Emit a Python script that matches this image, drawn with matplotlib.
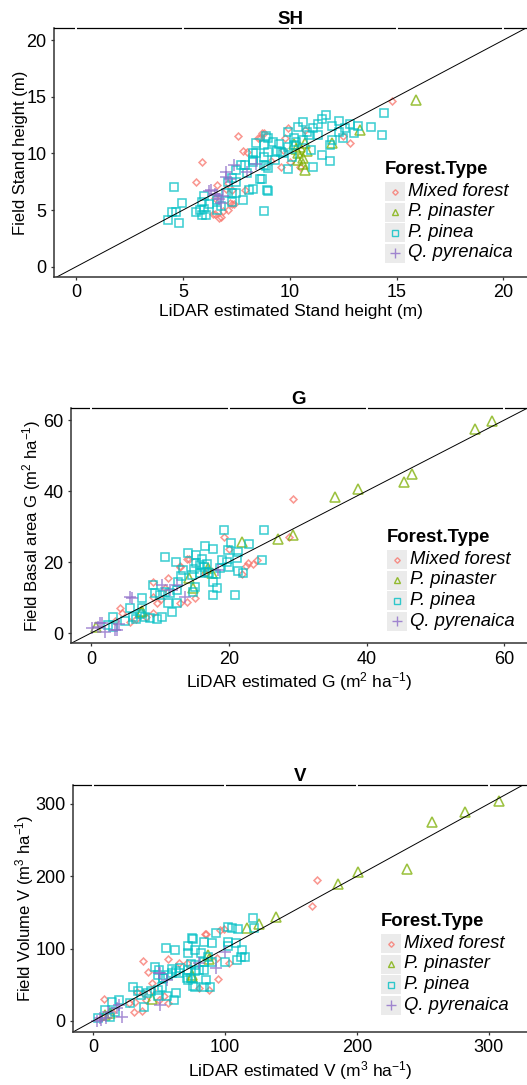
import numpy as np
import matplotlib
matplotlib.use("Agg")
import matplotlib.pyplot as plt
from matplotlib.patches import Rectangle
from matplotlib.lines import Line2D

plt.rcParams['font.family'] = ['Liberation Sans', 'DejaVu Sans']
plt.rcParams['mathtext.fontset'] = 'custom'
plt.rcParams['mathtext.rm'] = 'Liberation Sans'
plt.rcParams['mathtext.it'] = 'Liberation Sans:italic'

# forest types and their look (ggplot default hues)
groups = ['Mixed forest', 'P. pinaster', 'P. pinea', 'Q. pyrenaica']
colors = ['#F8766D', '#7CAE00', '#00BFC4', '#8E6CC8']
markers = ['D', '^', 's', '+']
msizes = [3.5, 7.0, 6.2, 8.5]
key_sizes = [2.8, 5.0, 4.2, 6.5]

# ---- SH : stand height (m), (LiDAR, field) ----
sh_mixed = [(14.8, 14.6), (7.6, 11.5), (8.5, 11.4), (8.7, 11.8), (9.9, 12.2), (7.8, 10.2),
            (8.0, 10.1), (5.9, 9.2), (5.6, 7.5), (9.7, 10.3), (12.5, 11.5), (12.8, 10.9),
            (10.0, 9.2), (10.5, 8.8), (9.6, 8.8), (9.1, 9.3), (10.7, 12.1), (9.8, 11.4),
            (6.8, 4.4), (7.4, 5.5), (7.1, 5.0), (6.5, 4.7), (7.1, 7.4), (7.9, 6.8),
            (6.6, 7.2), (7.2, 5.6), (6.9, 4.9), (7.0, 6.9), (6.5, 6.1), (6.7, 4.3),
            (7.3, 5.5), (6.4, 4.7), (7.3, 6.8), (8.6, 11.4), (8.8, 11.8)]
sh_pinaster = [(15.9, 14.7), (13.3, 12.1), (12.0, 10.9), (10.7, 8.5), (10.6, 9.1), (10.4, 10.0),
               (10.3, 10.4), (10.5, 10.6), (10.7, 10.9), (10.2, 10.8), (10.6, 9.6), (10.4, 9.4),
               (10.8, 10.2)]
sh_pinea = [(14.4, 13.6), (13.8, 12.3), (14.3, 11.6), (13.2, 12.4), (11.7, 13.4), (11.5, 13.0),
            (12.3, 12.9), (12.0, 12.4), (10.6, 12.8), (10.4, 12.3), (11.1, 12.2), (10.9, 11.6),
            (11.3, 11.6), (12.3, 11.9), (12.5, 11.4), (12.0, 11.2), (11.9, 10.7), (9.9, 11.9),
            (8.9, 11.5), (8.8, 10.7), (9.2, 11.0), (9.5, 10.8), (9.9, 10.6), (10.2, 11.4),
            (8.3, 10.0), (8.3, 9.4), (8.8, 9.0), (8.9, 8.9), (7.9, 9.0), (7.7, 9.0),
            (9.3, 9.4), (9.9, 8.6), (11.5, 9.9), (11.9, 9.3), (11.1, 8.8), (9.6, 10.1),
            (9.7, 10.0), (9.0, 10.1), (8.8, 9.7), (10.2, 10.7), (10.1, 9.7), (11.0, 10.3),
            (9.0, 8.7), (8.6, 7.7), (9.0, 6.7), (9.0, 11.4), (8.4, 10.9),
            (4.6, 7.0), (4.95, 5.6), (4.5, 4.8), (4.7, 4.8), (4.3, 4.1), (4.8, 3.9),
            (5.8, 5.0), (6.0, 5.1), (6.1, 4.6), (5.9, 5.7), (6.0, 6.2), (6.6, 5.9),
            (6.6, 5.0), (6.8, 5.4), (7.0, 6.5), (7.3, 6.5), (7.5, 6.5), (7.8, 5.9),
            (7.3, 5.7), (7.5, 7.5), (7.1, 7.5), (7.3, 7.8), (7.5, 8.5), (8.0, 8.3),
            (8.1, 6.8), (8.3, 6.9), (8.7, 7.7), (8.8, 4.9), (8.95, 6.8), (8.3, 9.2),
            (8.4, 10.0), (5.6, 4.8), (5.9, 4.6), (6.2, 5.5), (10.3, 11.0), (10.6, 11.2),
            (11.3, 12.6), (12.6, 12.2), (12.8, 12.6), (13.0, 11.8), (9.4, 10.2), (10.8, 11.9)]
sh_pyrenaica = [(7.4, 9.0), (7.0, 8.4), (6.3, 6.8), (6.6, 6.3), (6.9, 6.2), (7.2, 7.7),
                (8.4, 9.1), (8.0, 8.4), (6.7, 6.0), (6.5, 6.4), (6.2, 6.7), (7.0, 7.9),
                (6.8, 5.6)]

# ---- G : basal area (m2/ha) ----
g_mixed = [(29.3, 37.7), (28.8, 27.0), (19.3, 27.0), (20.0, 23.7), (24.1, 20.6), (22.8, 19.7),
           (13.9, 20.8), (12.9, 18.6), (22.5, 18.9), (21.9, 16.6), (12.9, 18.9), (14.2, 20.8),
           (11.2, 15.5), (9.0, 14.4), (10.7, 12.7), (9.0, 10.1), (9.6, 8.5), (10.1, 9.5),
           (15.1, 9.9), (13.9, 8.7), (12.9, 8.5), (4.2, 7.0), (4.5, 5.6), (5.7, 3.1),
           (9.0, 5.6), (8.0, 4.5), (17.0, 17.7), (16.5, 16.9), (6.5, 4.0), (3.5, 3.5),
           (23.5, 19.5)]
g_pinaster = [(58.2, 59.7), (55.8, 57.4), (46.6, 44.8), (45.4, 42.5), (38.7, 40.6), (35.4, 38.4),
              (29.3, 27.6), (27.2, 26.5), (21.9, 25.6), (14.2, 15.5), (14.8, 12.7), (17.0, 18.3),
              (7.2, 5.9), (0.7, 1.7), (17.5, 17.0), (7.4, 6.2)]
g_pinea = [(19.3, 29.0), (25.1, 29.0), (16.5, 24.5), (17.7, 23.7), (20.3, 25.4), (19.9, 23.4),
           (22.9, 25.1), (21.4, 22.8), (10.7, 21.4), (12.4, 20.1), (14.1, 22.5), (16.1, 20.8),
           (15.3, 22.0), (15.8, 19.2), (15.0, 18.0), (13.3, 17.7), (14.6, 16.3), (15.8, 16.8),
           (16.6, 17.2), (17.2, 16.9), (18.1, 16.5), (17.7, 14.4), (18.7, 18.3), (19.7, 20.0),
           (21.2, 21.1), (22.0, 16.9), (21.3, 17.5), (24.9, 20.6), (18.3, 12.7), (17.7, 10.7),
           (20.9, 10.7), (15.1, 13.0), (14.8, 11.6), (12.6, 14.4), (12.5, 12.1), (11.4, 11.3),
           (11.2, 8.5), (12.5, 8.5), (11.7, 5.9), (9.0, 13.5), (9.3, 11.3), (10.0, 10.8),
           (10.7, 11.6), (7.4, 9.9), (5.7, 7.0), (7.4, 7.0), (7.1, 5.5), (7.8, 4.6),
           (6.6, 3.9), (8.6, 4.2), (9.6, 3.9), (10.3, 4.5), (6.1, 4.5), (3.2, 4.5),
           (3.2, 1.7), (2.4, 2.2), (5.0, 3.5), (13.0, 16.0), (16.9, 19.5), (19.0, 20.6),
           (20.0, 18.5), (15.3, 19.7), (16.4, 18.6)]
g_pyrenaica = [(5.9, 9.9), (10.3, 13.5), (12.5, 13.5), (13.6, 10.1), (1.6, 2.8), (1.0, 1.7),
               (3.8, 0.8), (2.0, 0.3), (18.4, 17.7), (0.1, 1.4), (1.3, 2.8), (3.5, 0.8),
               (5.7, 10.1), (11.5, 12.2), (4.0, 2.5)]

# ---- V : volume (m3/ha) ----
v_mixed = [(170, 195), (166, 159), (85, 120), (96, 126), (86, 120), (99, 127), (38, 83),
           (57, 85), (42, 68), (65, 80), (71, 80), (94, 87), (103, 80), (95, 58), (88, 43),
           (80, 45), (8, 30), (27, 25), (32, 26), (37, 14), (31, 13), (57, 25), (54, 35),
           (50, 29), (45, 53), (45, 43), (38, 39), (33, 40), (40, 29), (14, 12), (7, 5)]
v_pinaster = [(308, 304), (282, 289), (257, 275), (238, 210), (201, 206), (186, 189),
              (139, 144), (126, 134), (117, 129), (87, 91), (88, 86), (75, 61), (75, 64),
              (45, 30), (9, 8), (13, 11)]
v_pinea = [(121, 142), (102, 130), (105, 128), (93, 122), (110, 127), (122, 129), (75, 115),
           (76, 113), (84, 109), (90, 108), (55, 101), (62, 98), (72, 103), (72, 94), (77, 98),
           (82, 94), (102, 109), (108, 108), (113, 98), (112, 89), (115, 89), (109, 84),
           (102, 104), (100, 82), (87, 89), (84, 82), (90, 82), (80, 71), (77, 69), (74, 59),
           (72, 56), (77, 47), (66, 73), (63, 69), (60, 66), (57, 64), (53, 59), (47, 75),
           (50, 71), (52, 47), (49, 43), (44, 41), (41, 39), (36, 36), (30, 47), (34, 41),
           (49, 34), (61, 29), (63, 39), (56, 34), (84, 71), (86, 57), (89, 47), (84, 47),
           (71, 59), (76, 49), (28, 25), (39, 19), (20, 29), (14, 26), (9, 15), (17, 13),
           (13, 6), (4, 4), (60, 72), (49, 63), (53, 60), (65, 66), (72, 71), (74, 79), (77, 78)]
v_pyrenaica = [(100, 95), (93, 73), (51, 66), (56, 57), (51, 22), (20, 22), (18, 18),
               (11, 12), (5, 4), (10, 4), (22, 6), (80, 80), (3, 0), (6, 1), (50, 66)]

panels = [
    dict(title='SH', data=[sh_mixed, sh_pinaster, sh_pinea, sh_pyrenaica],
         xlabel='LiDAR estimated Stand height (m)', ylabel='Field Stand height (m)',
         xlim=(-1.03, 21.1), ylim=(-0.9, 21.06), ticks=[0, 5, 10, 15, 20],
         rect=[54, 28, 527, 277], legend_at=(385, 170), ylab_x=28),
    dict(title='G', data=[g_mixed, g_pinaster, g_pinea, g_pyrenaica],
         xlabel='LiDAR estimated G (m$^{2}$ ha$^{-1}$)',
         ylabel='Field Basal area G (m$^{2}$ ha$^{-1}$)',
         xlim=(-2.9, 63.3), ylim=(-2.8, 63.4), ticks=[0, 20, 40, 60],
         rect=[71, 408, 527, 643], legend_at=(387, 538), ylab_x=43),
    dict(title='V', data=[v_mixed, v_pinaster, v_pinea, v_pyrenaica],
         xlabel='LiDAR estimated V (m$^{3}$ ha$^{-1}$)',
         ylabel='Field Volume V (m$^{3}$ ha$^{-1}$)',
         xlim=(-15.2, 329), ylim=(-15.2, 326), ticks=[0, 100, 200, 300],
         rect=[73, 785, 527, 1032], legend_at=(381, 922), ylab_x=36),
]

W, H = 527, 1085
fig = plt.figure(figsize=(W / 100, H / 100), dpi=100)


def fx(x):
    return x / W


def fy(y):
    return 1 - y / H


for p in panels:
    x0, y0, x1, y1 = p['rect']
    ax = fig.add_axes([fx(x0), fy(y1), (x1 - x0) / W, (y1 - y0) / H])

    for pts, c, m, ms in zip(p['data'], colors, markers, msizes):
        pts = np.array(pts)
        ax.plot(pts[:, 0], pts[:, 1], ls='none', marker=m, ms=ms, mfc='none',
                mec=c, mew=1.15, alpha=0.75)

    ax.axline((0, 0), slope=1, color='black', lw=0.7)

    ax.set_xlim(p['xlim'])
    ax.set_ylim(p['ylim'])
    ax.set_xticks(p['ticks'])
    ax.set_yticks(p['ticks'])
    ax.tick_params(labelsize=13, length=2.2, width=0.9, color='#333333', pad=3.2,
                   labelcolor='black')

    for side in ['left', 'bottom']:
        ax.spines[side].set_color('#333333')
        ax.spines[side].set_linewidth(1.1)
    ax.spines['top'].set_color('black')
    ax.spines['top'].set_linewidth(0.9)
    ax.spines['right'].set_visible(False)
    # white grid stubs breaking the top border
    for t in p['ticks']:
        ax.plot([t], [p['ylim'][1]], marker='|', ms=3, mew=1.4, color='white',
                clip_on=False, zorder=5)

    ax.set_title(p['title'], fontsize=13.5, fontweight='bold', pad=2.0)
    ax.set_xlabel(p['xlabel'], fontsize=12.5)
    ax.set_ylabel(p['ylabel'], fontsize=12)
    ax.xaxis.set_label_coords(0.5, -27 / (y1 - y0))
    ax.yaxis.set_label_coords((p['ylab_x'] - x0) / (x1 - x0), 0.5)

    # legend drawn by hand, ggplot style: grey key boxes, italic labels
    lx, ly = p['legend_at']
    fig.text(fx(lx), fy(ly), 'Forest.Type', fontsize=13.3, fontweight='bold',
             ha='left', va='center')
    for i, (g, c, m, ks) in enumerate(zip(groups, colors, markers, key_sizes)):
        ry = ly + 21.5 + 20.5 * i
        fig.add_artist(Rectangle((fx(lx), fy(ry + 9.5)), 20 / W, 19 / H,
                                 transform=fig.transFigure, facecolor='#EBEBEB',
                                 edgecolor='none'))
        fig.add_artist(Line2D([fx(lx + 10)], [fy(ry)], transform=fig.transFigure,
                              ls='none', marker=m, ms=ks, mfc='none', mec=c,
                              mew=1.0, alpha=0.8))
        fig.text(fx(lx + 23), fy(ry), g, fontsize=13.3, style='italic',
                 ha='left', va='center')

fig.savefig('out.png', dpi=100)
